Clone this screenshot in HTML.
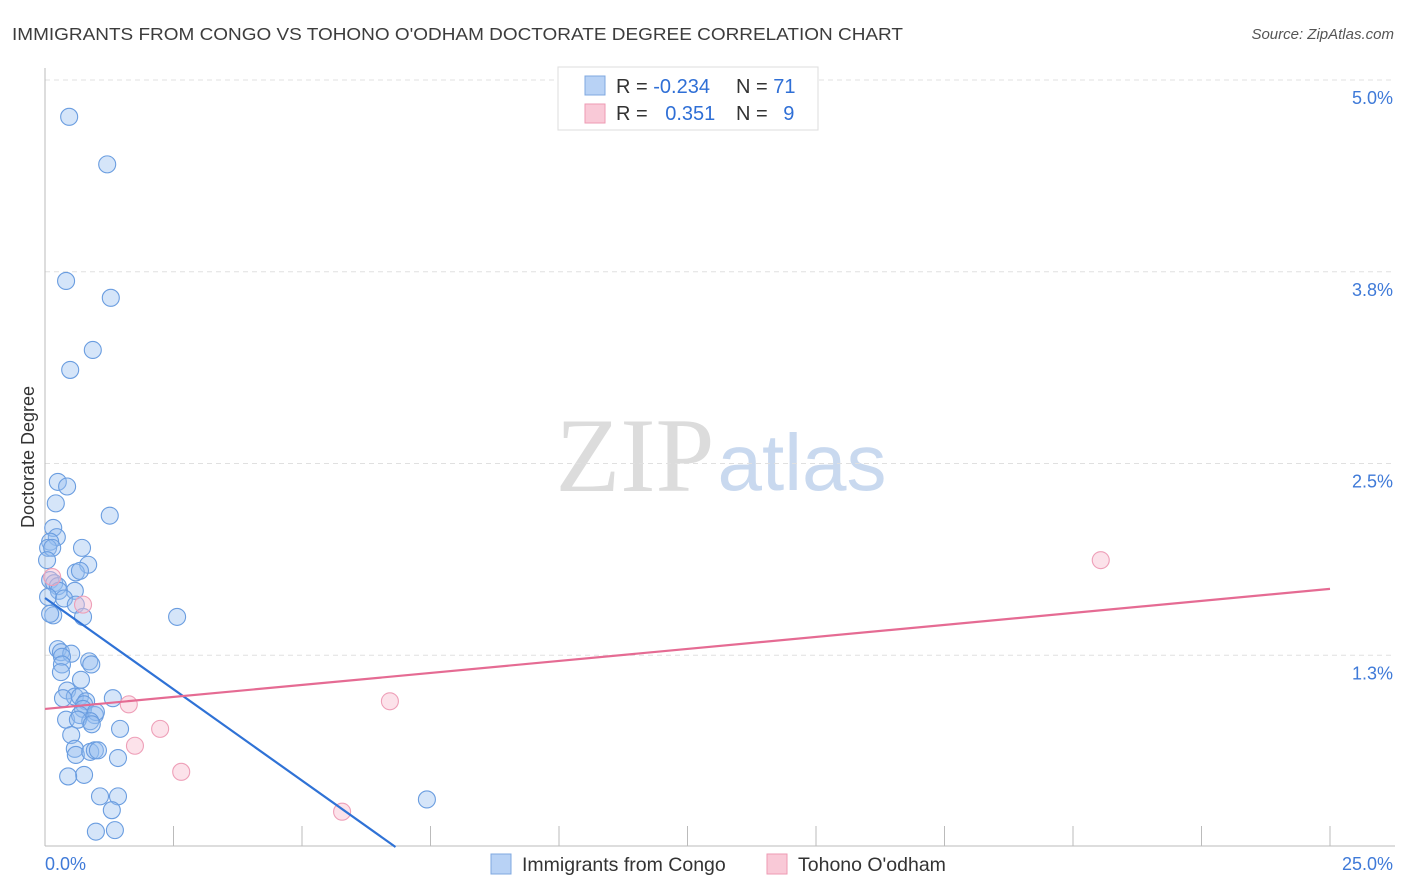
<!DOCTYPE html>
<html><head><meta charset="utf-8"><style>
body{margin:0;background:#fff;font-family:"Liberation Sans",sans-serif;}
#wrap{position:relative;width:1406px;height:892px;overflow:hidden;}
</style></head><body>
<div id="wrap">
<svg id="svg" width="1406" height="892" xmlns="http://www.w3.org/2000/svg">
<text x="12" y="40" font-size="17.5" fill="#3c3c3c" textLength="891" lengthAdjust="spacingAndGlyphs">IMMIGRANTS FROM CONGO VS TOHONO O'ODHAM DOCTORATE DEGREE CORRELATION CHART</text>
<text x="1394" y="39" font-size="15" fill="#555" text-anchor="end" font-style="italic">Source: ZipAtlas.com</text>
<text x="635" y="491" font-size="106" fill="#dcdcdc" font-family="Liberation Serif,serif" text-anchor="middle">ZIP</text>
<text x="802" y="490" font-size="80" fill="#c9d9ef" text-anchor="middle">atlas</text>
<text transform="translate(34,457) rotate(-90)" font-size="18" fill="#333" text-anchor="middle">Doctorate Degree</text>
<g id="grid"></g><g id="pts"></g><g id="lines"></g>
<g>
<rect x="558" y="67" width="260" height="63" fill="#fff" stroke="#ddd"/>
<rect x="585" y="76" width="20" height="19" fill="#b8d2f5" stroke="#7fa8e0"/>
<rect x="585" y="104" width="20" height="19" fill="#f9c9d7" stroke="#ee9ab3"/>
<text x="616" y="93" font-size="20" fill="#333">R = <tspan fill="#2f6fd6">-0.234</tspan></text>
<text x="736" y="93" font-size="20" fill="#333">N = <tspan fill="#2f6fd6">71</tspan></text>
<text x="616" y="120" font-size="20" fill="#333">R = <tspan fill="#2f6fd6" dx="12">0.351</tspan></text>
<text x="736" y="120" font-size="20" fill="#333">N = <tspan fill="#2f6fd6" dx="10">9</tspan></text>
</g>
<g>
<rect x="491" y="854" width="20" height="20" fill="#b8d2f5" stroke="#7fa8e0"/>
<text x="522" y="871" font-size="19.5" fill="#333">Immigrants from Congo</text>
<rect x="767" y="854" width="20" height="20" fill="#f9c9d7" stroke="#ee9ab3"/>
<text x="798" y="871" font-size="19.5" fill="#333">Tohono O'odham</text>
</g>
</svg>
</div>
<script>
const yTicks=[1.25,2.5,3.75,5.0];
const yTickLabels=["1.3%","2.5%","3.8%","5.0%"];
const xTickVals=[0,2.5,5,7.5,10,12.5,15,17.5,20,22.5,25];
const congoX=[0.47,1.21,0.41,1.28,0.93,0.49,0.25,0.43,0.21,1.26,0.16,0.23,0.10,0.06,0.14,0.72,0.04,0.84,0.60,0.68,0.10,0.18,0.25,0.58,0.27,0.06,0.37,0.60,0.74,0.16,0.10,2.57,0.25,0.31,0.51,0.33,0.33,0.86,0.90,0.31,0.70,0.43,0.58,0.35,0.68,0.80,0.76,1.32,0.74,0.41,0.68,0.97,0.99,0.88,0.64,0.91,1.46,0.51,0.58,0.60,0.88,0.97,1.03,1.42,0.76,0.45,1.07,1.42,1.30,0.99,1.36,7.43];
const congoY=[4.76,4.45,3.69,3.58,3.24,3.11,2.38,2.35,2.24,2.16,2.08,2.02,1.99,1.95,1.95,1.95,1.87,1.84,1.79,1.80,1.74,1.72,1.70,1.67,1.67,1.63,1.62,1.58,1.50,1.51,1.52,1.50,1.29,1.27,1.26,1.24,1.19,1.21,1.19,1.14,1.09,1.02,0.98,0.97,0.98,0.95,0.93,0.97,0.90,0.83,0.86,0.86,0.88,0.82,0.83,0.80,0.77,0.73,0.64,0.60,0.62,0.63,0.63,0.58,0.47,0.46,0.33,0.33,0.24,0.10,0.11,0.31];
const tohonoX=[0.14,0.74,1.63,2.24,1.75,2.65,6.71,5.78,20.54];
const tohonoY=[1.76,1.58,0.93,0.77,0.66,0.49,0.95,0.23,1.87];
const congoTrend=[1.623,-0.238];
const tohonoTrend=[0.900,0.0313];
const X0=45,X1=1330,Y0=847,YTOP=80;
const xs=v=>X0+v*(X1-X0)/25;
const ys=v=>Y0-v*(Y0-YTOP)/5;
const NS="http://www.w3.org/2000/svg";
function mk(t,a,p){const e=document.createElementNS(NS,t);for(const k in a)e.setAttribute(k,a[k]);p.appendChild(e);return e;}
const grid=document.getElementById('grid'),pts=document.getElementById('pts'),lines=document.getElementById('lines');
yTicks.forEach((v,i)=>{
 const l=mk('line',{x1:X0,x2:1395,y1:ys(v),y2:ys(v),stroke:'#e0e0e0','stroke-dasharray':'5,4'},grid);
 
 
 const t=mk('text',{x:1393,y:ys(v)+24,'font-size':18,fill:'#3f7ad8','text-anchor':'end'},grid);
 t.textContent=yTickLabels[i];
 
 
});
const ax=mk('line',{x1:X0,x2:X0,y1:68,y2:846,stroke:'#bbb'},grid);


const bx=mk('line',{x1:X0,x2:1395,y1:846,y2:846,stroke:'#bbb'},grid);


xTickVals.forEach(v=>{
 const t=mk('line',{x1:xs(v),x2:xs(v),y1:826,y2:846,stroke:'#bbb'},grid);
 
 
});
const xl=mk('text',{x:45,y:870,'font-size':18,fill:'#3f7ad8'},grid);xl.textContent='0.0%';


const xr=mk('text',{x:1393,y:870,'font-size':18,fill:'#3f7ad8','text-anchor':'end'},grid);xr.textContent='25.0%';


congoX.forEach((v,i)=>{
 const c=mk('circle',{cx:xs(v),cy:ys(congoY[i]),r:8.5,fill:'rgba(150,190,240,0.4)',stroke:'#6a9de0','stroke-width':1.1},pts);
 
 
});
tohonoX.forEach((v,i)=>{
 const c=mk('circle',{cx:xs(v),cy:ys(tohonoY[i]),r:8.5,fill:'rgba(248,190,208,0.45)',stroke:'#ee9fb8','stroke-width':1.1},pts);
 
 
});
const bxEnd=-congoTrend[0]/congoTrend[1];
const l1=mk('line',{x1:xs(0),y1:ys(congoTrend[0]),x2:xs(bxEnd),y2:ys(0),stroke:'#2f72d6','stroke-width':2.2},lines);


const l2=mk('line',{x1:xs(0),y1:ys(tohonoTrend[0]),x2:xs(25),y2:ys(tohonoTrend[0]+25*tohonoTrend[1]),stroke:'#e56b93','stroke-width':2.2},lines);


</script>
</body></html>
